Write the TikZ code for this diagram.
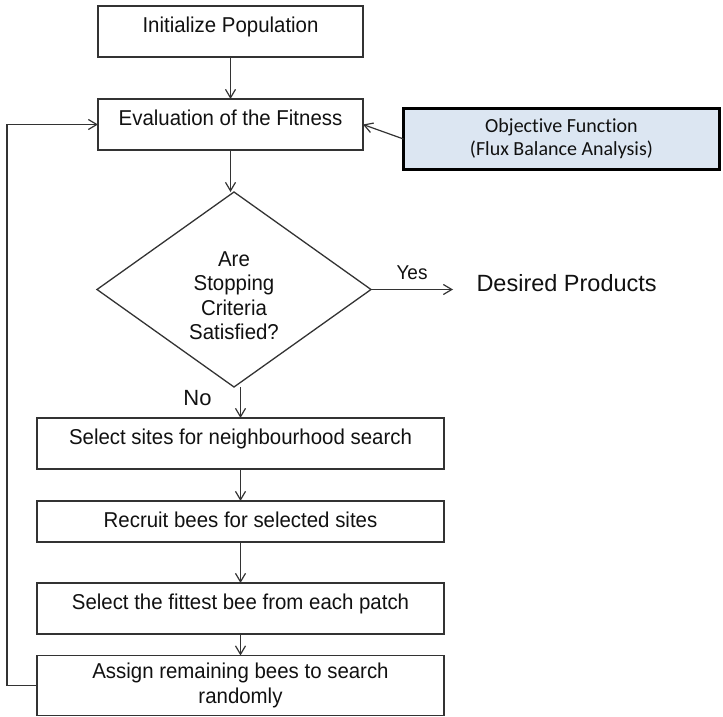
\documentclass[tikz,border=0pt]{standalone}
\usepackage{fontspec}
\setmainfont{Liberation Sans}[FakeStretch=0.95]
\newfontfamily\plainsans{Liberation Sans}
\newfontfamily\calib{Carlito}[Ligatures=NoCommon]
\usetikzlibrary{arrows.meta,shapes.geometric,calc}
\definecolor{linegray}{HTML}{333333}
\definecolor{txt}{HTML}{111111}
\definecolor{objfill}{HTML}{DCE6F2}
\begin{document}
\begin{tikzpicture}[x=1pt,y=-1pt,
  every node/.style={outer sep=0pt, text=txt},
  box/.style={draw=linegray, line width=1.3pt, minimum width=265pt, minimum height=51pt,
     inner sep=0pt, font=\fontsize{21.5}{24.3}\selectfont, text height=16pt, text depth=13.6pt},
  wbox/.style={box, minimum width=407pt},
  arr/.style={draw=linegray, line width=1.2pt, -{Straight Barb[length=8.5pt,width=10pt]}},
]
\useasboundingbox (0,0) rectangle (723,717);

\node[box] (init) at (230.5,31.5) {Initialize Population};
\node[box] (eval) at (230.5,124.5) {Evaluation of the Fitness};

\node[draw=black, line width=3.5pt, fill=objfill, minimum width=316pt, minimum height=61pt,
      inner sep=0pt, align=center, font=\calib\fontsize{20}{23}\selectfont] (obj) at (561.5,139)
      {Objective Function\\(Flux Balance Analysis)};

\node[diamond, draw=linegray, line width=1.3pt, minimum width=274pt, minimum height=195pt,
      inner sep=0pt] (dec) at (234,289.5) {};
\node[align=center, inner sep=0pt, font=\fontsize{21.5}{24.3}\selectfont] (dectext) at (234,295.8)
      {Are\\Stopping\\Criteria\\Satisfied?};

\node[anchor=base, inner sep=0pt, font=\fontsize{20}{24}\selectfont] (yes) at (412,279.3) {Yes};
\node[anchor=base west, inner sep=0pt, font=\plainsans\fontsize{23.5}{28}\selectfont] (prod) at (476.5,291.7) {Desired Products};
\node[anchor=base, inner sep=0pt, font=\plainsans\fontsize{22}{26}\selectfont] (no) at (197.5,405) {No};

\node[wbox] (sel) at (240.5,443.5) {Select sites for neighbourhood search};
\node[wbox, minimum height=41pt, text depth=4.6pt] (rec) at (240.5,521.5) {Recruit bees for selected sites};
\node[wbox] (fit) at (240.5,608.5) {Select the fittest bee from each patch};
\node[wbox, minimum height=60pt, align=center, text height=, text depth=] (asg) at (240.5,685.5)
      {Assign remaining bees to search\\randomly};

\draw[arr] (init.south) -- (eval.north);
\draw[arr] (eval.south) -- (eval.south |- dec.north);
\draw[arr] (obj.west) -- (eval.east);
\draw[arr, shorten >=23.5pt] (dec.east) -- (dec.east -| prod.west);
\draw[arr] (dec.south -| sel.north) -- (sel.north);
\draw[arr] (sel.south) -- (rec.north);
\draw[arr] (rec.south) -- (fit.north);
\draw[arr] (fit.south) -- (asg.north);
\draw[arr] (asg.west) -- ++(-30,0) |- (eval.west);
\end{tikzpicture}
\end{document}
